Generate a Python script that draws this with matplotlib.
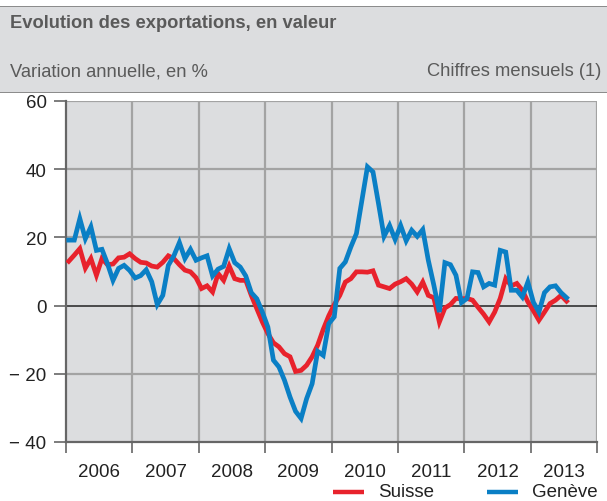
import matplotlib
matplotlib.use("Agg")
import matplotlib.pyplot as plt
import numpy as np

plt.rcParams['font.family'] = ['Liberation Sans', 'DejaVu Sans']

years = [2006, 2007, 2008, 2009, 2010, 2011, 2012, 2013]
y_ticks = [-40, -20, 0, 20, 40, 60]
y_labels = ["\u2212 40", "\u2212 20", "0", "20", "40", "60"]

# Monthly values, Jan 2006 .. Jul 2013
suisse = [13.0, 14.8, 16.7, 11.0, 13.8, 8.9, 13.8, 12.0, 12.2, 14.0, 14.2, 15.2,
          13.8, 12.7, 12.5, 11.6, 11.3, 12.7, 14.6, 13.8, 12.0, 10.4, 9.9, 8.2,
          5.0, 5.8, 4.0, 9.4, 7.4, 11.6, 7.9, 7.4, 7.4, 3.0, -0.9, -4.8,
          -8.2, -10.9, -12.1, -14.1, -15.0, -19.3, -19.0, -17.5, -15.0, -11.6, -7.0, -3.0,
          0.3, 3.0, 6.9, 7.9, 9.9, 9.9, 9.8, 10.2, 6.0, 5.5, 5.0, 6.3,
          7.0, 7.9, 6.3, 4.0, 6.9, 3.0, 2.3, -4.8, -0.7, 0.3, 2.1, 2.0,
          2.1, 1.6, -0.5, -2.5, -4.8, -1.9, 2.1, 7.9, 5.8, 6.5, 4.5, 1.1,
          -1.5, -4.3, -1.9, 0.6, 1.6, 3.0, 1.3]
geneve = [19.2, 19.2, 25.5, 19.6, 23.1, 16.2, 16.5, 12.3, 7.4, 10.9, 11.8, 10.3,
          8.1, 8.8, 10.5, 7.0, 0.3, 3.0, 11.8, 14.6, 18.5, 13.8, 16.5, 13.3,
          14.0, 14.6, 8.7, 10.7, 11.5, 16.7, 12.6, 11.3, 8.7, 3.8, 2.0, -1.9,
          -6.3, -16.0, -18.0, -21.9, -26.8, -31.0, -33.1, -27.3, -22.9, -13.4, -14.6, -5.3,
          -3.3, 10.9, 12.8, 17.2, 21.1, 30.9, 40.7, 39.2, 29.9, 20.3, 23.5, 19.4,
          23.5, 19.0, 22.1, 20.3, 22.3, 13.3, 6.0, -1.9, 12.6, 12.0, 8.9, 0.9,
          2.1, 9.9, 9.7, 5.5, 6.5, 6.0, 16.2, 15.7, 4.5, 4.5, 2.5, 6.9,
          1.0, -1.9, 3.8, 5.5, 5.8, 3.8, 2.3]

months = np.arange(len(suisse))
x = 2006 + (months + 0.5) / 12.0

W, H = 607, 502
fig = plt.figure(figsize=(W / 100, H / 100), dpi=100)
fig.patch.set_facecolor('white')

def fx(px):
    return px / W

def fy(py):
    return 1 - py / H

BG = '#dcdddf'
GRID = '#a3a3a3'
TXT = '#5a5a5a'
RED = '#e8222c'
BLUE = '#0a7fc5'

# header band
hdr = fig.add_axes([0, fy(94), 1, fy(7) - fy(94)])
hdr.set_xlim(0, 1); hdr.set_ylim(0, 1)
hdr.axis('off')
hdr.add_patch(plt.Rectangle((0, 0), 1, 1, facecolor=BG, edgecolor='none'))
hdr.axhline(1, color='#8a8a8a', lw=1.4)
hdr.axhline(0, color='#8a8a8a', lw=1.4)
fig.text(fx(10), fy(24), "Evolution des exportations, en valeur", fontsize=13.2,
         fontweight='bold', color=TXT, ha='left', va='center')
fig.text(fx(10), fy(72), "Variation annuelle, en %", fontsize=13.2,
         color=TXT, ha='left', va='center')
fig.text(fx(601), fy(72), "Chiffres mensuels (1)", fontsize=13.2,
         color=TXT, ha='right', va='center')

# main axes
ax = fig.add_axes([fx(66), fy(443), fx(597) - fx(66), fy(102) - fy(443)])
ax.set_facecolor(BG)
ax.set_xlim(2006, 2014)
ax.set_ylim(-40, 60)

for yy in [-20, 20, 40, 60]:
    ax.axhline(yy, color=GRID, lw=1.6, zorder=1)
for yr in range(2007, 2015):
    ax.axvline(yr, color=GRID, lw=1.6, zorder=1)
ax.axhline(0, color='#222222', lw=1.1, zorder=2)

ax.plot(x, suisse, color=RED, lw=3.4, solid_joinstyle='miter', zorder=3)
ax.plot(x, geneve, color=BLUE, lw=3.4, solid_joinstyle='miter', zorder=4)

for s in ['top', 'right']:
    ax.spines[s].set_visible(False)
ax.spines['left'].set_color('#666666')
ax.spines['left'].set_linewidth(1.6)
ax.spines['bottom'].set_color('#666666')
ax.spines['bottom'].set_linewidth(1.6)

ax.set_yticks(y_ticks)
ax.set_yticklabels(y_labels)
ax.tick_params(axis='y', length=9, width=1.2, color='#666666', labelsize=13.5,
               labelcolor='#222222', pad=5)

ax.set_xticks(list(range(2006, 2015)))
ax.set_xticklabels([])
ax.set_xticks([yr + 0.5 for yr in years], minor=True)
ax.set_xticklabels([str(yr) for yr in years], minor=True)
ax.tick_params(axis='x', which='major', length=8, width=1.2, color='#666666')
ax.tick_params(axis='x', which='minor', length=0, labelsize=13.5,
               labelcolor='#222222', pad=15)

# legend
fig.lines.append(plt.Line2D([fx(333), fx(364)], [fy(493), fy(493)], color=RED, lw=3.2,
                            transform=fig.transFigure, solid_capstyle='butt'))
fig.text(fx(378), fy(493), "Suisse", fontsize=13.5, color='#222222', ha='left', va='center')
fig.lines.append(plt.Line2D([fx(487), fx(518)], [fy(493), fy(493)], color=BLUE, lw=3.2,
                            transform=fig.transFigure, solid_capstyle='butt'))
fig.text(fx(532), fy(493), "Genève", fontsize=13.5, color='#222222', ha='left', va='center')

fig.savefig("out.png", dpi=100, facecolor='white')
